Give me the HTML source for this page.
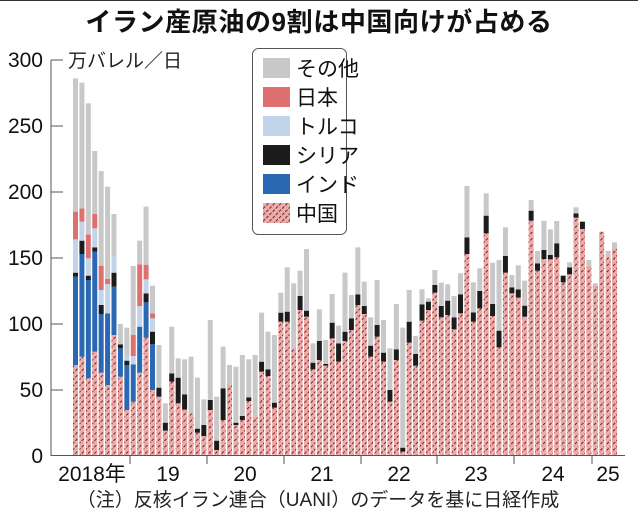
<!DOCTYPE html>
<html><head><meta charset="utf-8"><style>
html,body{margin:0;padding:0;background:#fff;}
svg{display:block;font-family:"Liberation Sans","Noto Sans CJK JP",sans-serif;}
</style></head><body>
<svg id="s" width="638" height="520" viewBox="0 0 638 520" xmlns="http://www.w3.org/2000/svg">
<defs>
<pattern id="h" patternUnits="userSpaceOnUse" width="4.5" height="4.5" patternTransform="rotate(45)">
<rect width="4.5" height="4.5" fill="#eeaaa8"/>
<line x1="0.5" y1="0" x2="0.5" y2="4.5" stroke="#6a2a2a" stroke-width="1" stroke-dasharray="2,1.5"/>
</pattern>
</defs>
<line x1="0" y1="0.5" x2="638" y2="0.5" stroke="#333" stroke-width="1"/>
<text x="319" y="31" text-anchor="middle" font-size="26" font-weight="bold" letter-spacing="0.6" fill="#111">イラン産原油の9割は中国向けが占める</text>
<g id="bars"></g>
<line x1="51" y1="60" x2="51" y2="456" stroke="#555" stroke-width="1"/>
<line x1="51" y1="455.5" x2="625" y2="455.5" stroke="#555" stroke-width="1"/>
<g stroke="#555" stroke-width="1">
<line x1="51" y1="60" x2="63" y2="60"/><line x1="51" y1="126" x2="63" y2="126"/><line x1="51" y1="192" x2="63" y2="192"/><line x1="51" y1="258" x2="63" y2="258"/><line x1="51" y1="324" x2="63" y2="324"/><line x1="51" y1="390" x2="63" y2="390"/>
<line x1="130" y1="456" x2="130" y2="464"/><line x1="207" y1="456" x2="207" y2="464"/><line x1="284" y1="456" x2="284" y2="464"/><line x1="361" y1="456" x2="361" y2="464"/><line x1="437" y1="456" x2="437" y2="464"/><line x1="514" y1="456" x2="514" y2="464"/><line x1="592" y1="456" x2="592" y2="464"/>
</g>
<g font-size="21" fill="#111" text-anchor="end">
<text x="43" y="67">300</text><text x="43" y="133">250</text><text x="43" y="199">200</text><text x="43" y="265">150</text><text x="43" y="331">100</text><text x="43" y="397">50</text><text x="43" y="463">0</text>
</g>
<text x="68" y="67" font-size="19" fill="#222">万バレル／日</text>
<g font-size="21" fill="#111" text-anchor="middle">
<text x="92" y="481">2018年</text><text x="168" y="481">19</text><text x="245" y="481">20</text><text x="322" y="481">21</text><text x="399" y="481">22</text><text x="476" y="481">23</text><text x="553" y="481">24</text><text x="608" y="481">25</text>
</g>
<text x="318" y="506" font-size="19" fill="#222" text-anchor="middle">（注）反核イラン連合（UANI）のデータを基に日経作成</text>
<rect x="252.5" y="48.5" width="94" height="186" rx="6" fill="#fff" stroke="#555" stroke-width="1"/>
<g>
<rect x="263" y="58" width="27" height="20" fill="#c8c8c8"/>
<rect x="263" y="87" width="27" height="20" fill="#de7070"/>
<rect x="263" y="116" width="27" height="20" fill="#c2d4ea"/>
<rect x="263" y="145" width="27" height="20" fill="#1c1c1c"/>
<rect x="263" y="174" width="27" height="20" fill="#2a68b4"/>
<rect x="263" y="203" width="27" height="20" fill="url(#h)"/>
</g>
<g font-size="21" fill="#111">
<text x="296" y="76">その他</text><text x="296" y="105">日本</text><text x="296" y="134">トルコ</text><text x="296" y="163">シリア</text><text x="296" y="192">インド</text><text x="296" y="221">中国</text>
</g>
</svg>
<script>
var z1=[[885,620,608,508,425,25],[860,552,512,455,415,38],[925,630,617,565,493,100],[845,545,532,475,432,243],[908,732,705,660,587,303],[945,730,730,642,627,350],[795,650,608,560,560,432],
[920,835,823,823,823,762],[1020,885,872,860,860,773],[995,883,883,858,795,588],[908,770,770,708,583,512],[803,697,670,628,585,410],[960,822,785,745,730,647],
[980,980,953,953,953,825],[1082,1082,1058,1058,1058,1000],[935,935,910,910,910,770],[1000,1000,923,923,923,865],[1020,1017,973,973,973,868],[1030,1030,1030,1030,1030,860],
[1088,1088,1076,1076,1076,923],[1098,1098,1065,1065,1065,988],[1020,1020,990,990,990,750],[1140,1140,1112,1112,1112,980],[1050,1050,955,955,955,830],[945,945,945,945,945,885],
[1065,1065,1058,1058,1058,890],[1050,1050,1038,1038,1038,855],[993,993,982,982,982,868],[1040,1040,1040,1040,1040,855]];
var z2=[[575,545,398],[588,568,455],[683,668,465],[425,398,338],[425,395,262],[505,505,310],[390,348,272],[410,392,207],[568,548,490],[540,483,388],[557,552,480],[475,428,342],[545,490,437],[483,455,278],[450,415,345],[375,343,202],[402,378,305],[530,497,412],[470,435,300],[545,518,420],[665,630,505],[540,508,372],[815,803,443],[488,425,330],[557,522,468],[422,373,328],[390,365,355],[338,315,270],
[412,378,308],[405,362,313],[448,412,348],[400,343,280],[222,172,18],[425,397,307],[385,333,265],[160,107,40],[408,372,248],[502,452,240],[278,228,142],[340,322,285],[353,328,256],[410,377,302],[122,92,60],[272,250,213],[237,210,122],[238,225,148],[232,190,123],[307,287,287],[283,262,247],[113,100,82],[147,125,125],[258,258,240],[318,318,310],[155,155,155],[232,232,212],[207,207,187]];
var bars=[];
z1.forEach(function(a){bars.push(a.map(function(v){return v/3+70;}));});
z2.forEach(function(a){var c=a[0]/3+180,s=a[1]/3+180,t=Math.min(a[2],a[1])/3+180;bars.push([c,c,s,s,s,t]);});
var cols=["url(#h)","#2a68b4","#1c1c1c","#c2d4ea","#de7070","#c8c8c8"];
var out="";
bars.forEach(function(b,i){
  var x=(73+i*6.417).toFixed(2);var prev=455;
  for(var k=0;k<6;k++){var top=b[k];if(top<prev-0.2){out+='<rect x="'+x+'" y="'+top.toFixed(2)+'" width="5" height="'+(prev-top).toFixed(2)+'" fill="'+cols[k]+'"/>';prev=top;}}
});
document.getElementById("bars").innerHTML=out;
</script>
</body></html>
